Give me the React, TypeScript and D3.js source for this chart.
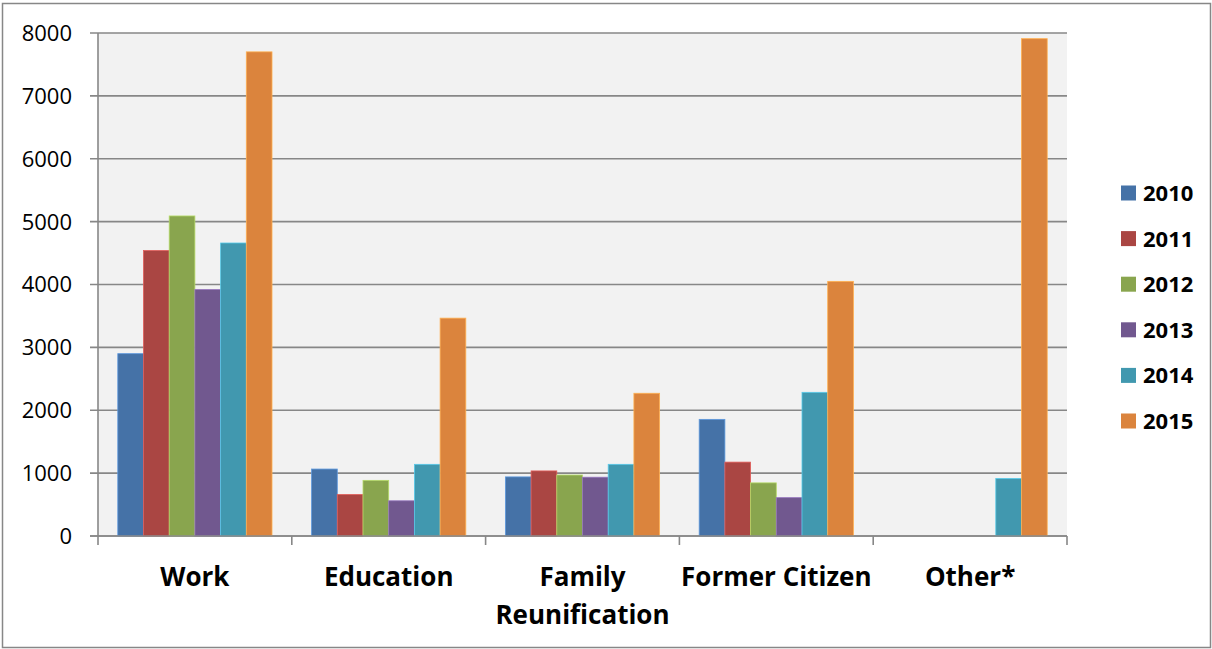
import { useEffect, useRef } from "react";
import * as d3 from "d3";

const categories = ["Work", "Education", "Family Reunification", "Former Citizen", "Other*"];
const categoryLines = [["Work"], ["Education"], ["Family", "Reunification"], ["Former Citizen"], ["Other*"]];
const years = ["2010", "2011", "2012", "2013", "2014", "2015"];

const v2010 = [2900, 1065, 940, 1855, 0];
const v2011 = [4540, 660, 1035, 1175, 0];
const v2012 = [5090, 885, 970, 845, 0];
const v2013 = [3920, 560, 935, 610, 0];
const v2014 = [4660, 1140, 1140, 2285, 915];
const v2015 = [7700, 3465, 2270, 4050, 7910];

const yTicks = [0, 1000, 2000, 3000, 4000, 5000, 6000, 7000, 8000];
const colors = ["#4572a7", "#aa4643", "#89a54e", "#71588f", "#4198af", "#db843d"];

const W = 1212;
const H = 649;
const FONT = "'Open Sans', 'Noto Sans', sans-serif";

export default function App() {
  const svgRef = useRef<SVGSVGElement | null>(null);

  useEffect(() => {
    if (!svgRef.current) return;
    const svg = d3.select(svgRef.current);
    svg.selectAll("*").remove();

    const series = [v2010, v2011, v2012, v2013, v2014, v2015];
    const left = 98;
    const right = 1067;
    const top = 33;
    const bottom = 536;
    const grid = "#878787";

    // outer frame
    svg
      .append("rect")
      .attr("x", 2.5)
      .attr("y", 3.5)
      .attr("width", W - 4)
      .attr("height", H - 5)
      .attr("fill", "#fff")
      .attr("stroke", grid)
      .attr("stroke-width", 1.5);

    const x = d3.scaleBand<string>().domain(categories).range([left, right]);
    const xi = d3
      .scaleBand<string>()
      .domain(years)
      .range([0, x.bandwidth()])
      .paddingOuter(0.77);
    const y = d3.scaleLinear().domain([0, 8000]).range([bottom, top]);

    svg
      .append("rect")
      .attr("x", left)
      .attr("y", top)
      .attr("width", right - left)
      .attr("height", bottom - top)
      .attr("fill", "#f2f2f2");

    // gridlines + y ticks
    const yg = svg.append("g");
    yTicks.forEach((t) => {
      yg.append("line")
        .attr("x1", left - 8)
        .attr("x2", right)
        .attr("y1", y(t))
        .attr("y2", y(t))
        .attr("stroke", grid)
        .attr("stroke-width", 1.6);
      yg.append("text")
        .attr("x", 72)
        .attr("y", y(t))
        .attr("dy", "0.36em")
        .attr("text-anchor", "end")
        .attr("font-family", FONT)
        .attr("font-size", 22)
        .attr("fill", "#000")
        .text(t);
    });

    // bars
    series.forEach((vals, si) => {
      svg
        .append("g")
        .selectAll("rect")
        .data(vals)
        .join("rect")
        .attr("x", (_, i) => (x(categories[i]) ?? 0) + (xi(years[si]) ?? 0))
        .attr("y", (d) => y(d))
        .attr("width", xi.bandwidth())
        .attr("height", (d) => bottom - y(d))
        .attr("fill", colors[si])
        .attr("stroke", d3.color(colors[si])!.brighter(0.8).formatHex())
        .attr("stroke-width", (d) => (d > 0 ? 0.8 : 0));
    });

    // axes
    svg
      .append("line")
      .attr("x1", left)
      .attr("x2", left)
      .attr("y1", top)
      .attr("y2", bottom + 9)
      .attr("stroke", grid)
      .attr("stroke-width", 1.6);
    svg
      .append("line")
      .attr("x1", left - 8)
      .attr("x2", right)
      .attr("y1", bottom)
      .attr("y2", bottom)
      .attr("stroke", grid)
      .attr("stroke-width", 1.6);
    categories.forEach((c) => {
      const xe = (x(c) ?? 0) + x.bandwidth();
      svg
        .append("line")
        .attr("x1", xe)
        .attr("x2", xe)
        .attr("y1", bottom)
        .attr("y2", bottom + 9)
        .attr("stroke", grid)
        .attr("stroke-width", 1.6);
    });

    // category labels
    categories.forEach((c, i) => {
      const cx = (x(c) ?? 0) + x.bandwidth() / 2;
      const t = svg
        .append("text")
        .attr("text-anchor", "middle")
        .attr("font-family", FONT)
        .attr("font-weight", 700)
        .attr("font-size", 26)
        .attr("fill", "#000");
      categoryLines[i].forEach((line, li) => {
        t.append("tspan")
          .attr("x", cx)
          .attr("y", 586 + li * 38)
          .text(line);
      });
    });

    // legend
    const lg = svg.append("g");
    years.forEach((yr, i) => {
      const cy = 193 + i * 45.6;
      lg.append("rect")
        .attr("x", 1121)
        .attr("y", cy - 7.5)
        .attr("width", 15)
        .attr("height", 15)
        .attr("fill", colors[i]);
      lg.append("text")
        .attr("x", 1143)
        .attr("y", cy)
        .attr("dy", "0.36em")
        .attr("font-family", FONT)
        .attr("font-weight", 700)
        .attr("font-size", 22)
        .attr("fill", "#000")
        .text(yr);
    });
  }, []);

  return (
    <svg
      ref={svgRef}
      width={W}
      height={H}
      style={{ position: "absolute", left: 0, top: 0, display: "block" }}
    />
  );
}
